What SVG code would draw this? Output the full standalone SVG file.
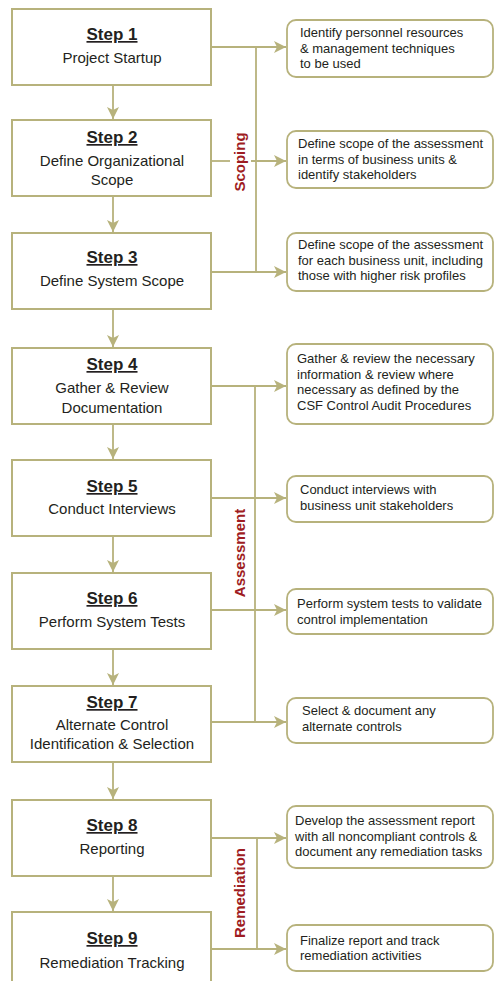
<svg xmlns="http://www.w3.org/2000/svg" width="494" height="981" viewBox="0 0 494 981">
  <style>
    .step { fill: #ffffff; stroke: #b7b27c; stroke-width: 2; }
    .note { fill: #ffffff; stroke: #b7b27c; stroke-width: 1.8; }
    .wire { fill: none; stroke: #b7b27c; stroke-width: 1.8; }
    .title { font-family: "Liberation Sans", Arial, sans-serif; font-size: 17px; font-weight: bold; fill: #231f20; text-anchor: middle; text-decoration: underline; }
    .sub { font-family: "Liberation Sans", Arial, sans-serif; font-size: 15px; fill: #231f20; text-anchor: middle; }
    .txt { font-family: "Liberation Sans", Arial, sans-serif; font-size: 13px; fill: #231f20; }
    .phase { font-family: "Liberation Sans", Arial, sans-serif; font-size: 15px; font-weight: bold; fill: #9e1c22; text-anchor: middle; }
  </style>
  <defs>
    <marker id="arrow" markerUnits="userSpaceOnUse" markerWidth="12" markerHeight="12" viewBox="0 0 12 12" refX="12" refY="6" orient="auto">
      <path d="M0,0 L12,6 L0,12 L3,6 Z" fill="#b7b27c"/>
    </marker>
  </defs>

  <rect width="494" height="981" fill="#ffffff"/>

  <!-- connectors -->
  <g id="connectors">
    <!-- step to step -->
    <path class="wire" d="M113,85 V119" marker-end="url(#arrow)"/>
    <path class="wire" d="M113,196 V232" marker-end="url(#arrow)"/>
    <path class="wire" d="M113,309 V347" marker-end="url(#arrow)"/>
    <path class="wire" d="M113,424 V459" marker-end="url(#arrow)"/>
    <path class="wire" d="M113,536 V572" marker-end="url(#arrow)"/>
    <path class="wire" d="M113,649 V685" marker-end="url(#arrow)"/>
    <path class="wire" d="M113,762 V799" marker-end="url(#arrow)"/>
    <path class="wire" d="M113,876 V911" marker-end="url(#arrow)"/>

    <!-- scoping bus -->
    <path class="wire" d="M256,47 V272"/>
    <path class="wire" d="M211,47 H286" marker-end="url(#arrow)"/>
    <path class="wire" d="M211,161 H230"/>
    <path class="wire" d="M251,161 H286" marker-end="url(#arrow)"/>
    <path class="wire" d="M211,272 H286" marker-end="url(#arrow)"/>

    <!-- assessment bus -->
    <path class="wire" d="M255,386 V722"/>
    <path class="wire" d="M211,386 H286" marker-end="url(#arrow)"/>
    <path class="wire" d="M211,498 H286" marker-end="url(#arrow)"/>
    <path class="wire" d="M211,610 H286" marker-end="url(#arrow)"/>
    <path class="wire" d="M211,722 H286" marker-end="url(#arrow)"/>

    <!-- remediation bus -->
    <path class="wire" d="M257,838 V949"/>
    <path class="wire" d="M211,838 H286" marker-end="url(#arrow)"/>
    <path class="wire" d="M211,949 H286" marker-end="url(#arrow)"/>
  </g>

  <!-- phase labels -->
  <text class="phase" transform="translate(245,162) rotate(-90)">Scoping</text>
  <text class="phase" transform="translate(245,553) rotate(-90)">Assessment</text>
  <text class="phase" transform="translate(245,893) rotate(-90)">Remediation</text>

  <!-- steps -->
  <g id="step1">
    <rect class="step" x="12" y="9" width="199" height="76"/>
    <text class="title" x="112" y="40">Step 1</text>
    <text class="sub" x="112" y="63">Project Startup</text>
  </g>
  <g id="step2">
    <rect class="step" x="12" y="120" width="199" height="76"/>
    <text class="title" x="112" y="143">Step 2</text>
    <text class="sub" x="112" y="166">Define Organizational</text>
    <text class="sub" x="112" y="185">Scope</text>
  </g>
  <g id="step3">
    <rect class="step" x="12" y="233" width="199" height="76"/>
    <text class="title" x="112" y="263">Step 3</text>
    <text class="sub" x="112" y="286">Define System Scope</text>
  </g>
  <g id="step4">
    <rect class="step" x="12" y="348" width="199" height="76"/>
    <text class="title" x="112" y="370">Step 4</text>
    <text class="sub" x="112" y="393">Gather &amp; Review</text>
    <text class="sub" x="112" y="413">Documentation</text>
  </g>
  <g id="step5">
    <rect class="step" x="12" y="460" width="199" height="76"/>
    <text class="title" x="112" y="492">Step 5</text>
    <text class="sub" x="112" y="514">Conduct Interviews</text>
  </g>
  <g id="step6">
    <rect class="step" x="12" y="573" width="199" height="76"/>
    <text class="title" x="112" y="604">Step 6</text>
    <text class="sub" x="112" y="627">Perform System Tests</text>
  </g>
  <g id="step7">
    <rect class="step" x="12" y="686" width="199" height="76"/>
    <text class="title" x="112" y="708">Step 7</text>
    <text class="sub" x="112" y="730">Alternate Control</text>
    <text class="sub" x="112" y="749">Identification &amp; Selection</text>
  </g>
  <g id="step8">
    <rect class="step" x="12" y="800" width="199" height="76"/>
    <text class="title" x="112" y="831">Step 8</text>
    <text class="sub" x="112" y="854">Reporting</text>
  </g>
  <g id="step9">
    <rect class="step" x="12" y="912" width="199" height="80"/>
    <text class="title" x="112" y="944">Step 9</text>
    <text class="sub" x="112" y="968">Remediation Tracking</text>
  </g>

  <!-- notes -->
  <g id="note1">
    <rect class="note" x="287" y="20" width="206" height="57" rx="9"/>
    <text class="txt" x="300" y="37">Identify personnel resources</text>
    <text class="txt" x="300" y="53">&amp; management techniques</text>
    <text class="txt" x="300" y="68">to be used</text>
  </g>
  <g id="note2">
    <rect class="note" x="287" y="131" width="206" height="57" rx="9"/>
    <text class="txt" x="298" y="148">Define scope of the assessment</text>
    <text class="txt" x="298" y="164">in terms of business units &amp;</text>
    <text class="txt" x="298" y="179">identify stakeholders</text>
  </g>
  <g id="note3">
    <rect class="note" x="287" y="233" width="206" height="58" rx="9"/>
    <text class="txt" x="298" y="249">Define scope of the assessment</text>
    <text class="txt" x="298" y="265">for each business unit, including</text>
    <text class="txt" x="298" y="280">those with higher risk profiles</text>
  </g>
  <g id="note4">
    <rect class="note" x="287" y="344" width="206" height="80" rx="9"/>
    <text class="txt" x="297" y="363">Gather &amp; review the necessary</text>
    <text class="txt" x="297" y="379">information &amp; review where</text>
    <text class="txt" x="297" y="394">necessary as defined by the</text>
    <text class="txt" x="297" y="410">CSF Control Audit Procedures</text>
  </g>
  <g id="note5">
    <rect class="note" x="287" y="476" width="206" height="46" rx="9"/>
    <text class="txt" x="300" y="494">Conduct interviews with</text>
    <text class="txt" x="300" y="510">business unit stakeholders</text>
  </g>
  <g id="note6">
    <rect class="note" x="287" y="589" width="206" height="45" rx="9"/>
    <text class="txt" x="297" y="608">Perform system tests to validate</text>
    <text class="txt" x="297" y="624">control implementation</text>
  </g>
  <g id="note7">
    <rect class="note" x="287" y="698" width="206" height="45" rx="9"/>
    <text class="txt" x="302" y="715">Select &amp; document any</text>
    <text class="txt" x="302" y="731">alternate controls</text>
  </g>
  <g id="note8">
    <rect class="note" x="287" y="806" width="206" height="62" rx="9"/>
    <text class="txt" x="295" y="825">Develop the assessment report</text>
    <text class="txt" x="295" y="841">with all noncompliant controls &amp;</text>
    <text class="txt" x="295" y="856">document any remediation tasks</text>
  </g>
  <g id="note9">
    <rect class="note" x="287" y="925" width="206" height="46" rx="9"/>
    <text class="txt" x="300" y="945">Finalize report and track</text>
    <text class="txt" x="300" y="960">remediation activities</text>
  </g>
</svg>
